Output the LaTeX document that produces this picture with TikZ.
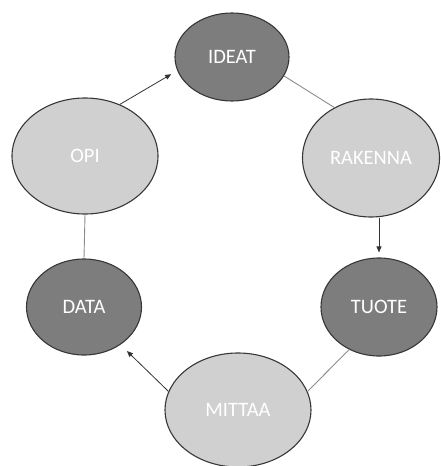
\documentclass[tikz,border=0pt]{standalone}
\usepackage{fontspec}
\setmainfont{Carlito}
\usetikzlibrary{shapes.geometric,arrows.meta}
\definecolor{darkfill}{RGB}{125,125,125}
\definecolor{lightfill}{RGB}{208,208,208}
\definecolor{rim}{RGB}{55,55,55}
\definecolor{linkgray}{RGB}{140,140,140}
\begin{document}
\begin{tikzpicture}[x=1pt,y=-1pt,
  bubble/.style={ellipse,draw=rim,line width=1.1pt,inner sep=0pt,text=white,font=\fontsize{20.5}{23}\selectfont},
  darkb/.style={bubble,fill=darkfill},
  lightb/.style={bubble,fill=lightfill},
  link/.style={draw=linkgray,line width=0.9pt},
  flow/.style={draw=black!80,line width=0.8pt,-{Triangle[length=6pt,width=5pt]}}]
\useasboundingbox (0,0) rectangle (441,466);
\node[darkb,minimum width=114pt,minimum height=88pt] (ideat) at (232,57) {IDEAT};
\node[lightb,minimum width=137pt,minimum height=118pt] (rakenna) at (371,158) {RAKENNA};
\node[darkb,minimum width=116pt,minimum height=98pt] (tuote) at (379,307) {TUOTE};
\node[lightb,minimum width=146pt,minimum height=114pt] (mittaa) at (238,410) {MITTAA};
\node[darkb,minimum width=115pt,minimum height=96pt] (data) at (84,307) {DATA};
\node[lightb,minimum width=146pt,minimum height=116pt] (opi) at (85,156) {OPI};
\draw[link] (ideat.-20) -- (rakenna.126);
\draw[flow,shorten >=5pt] (rakenna.south -| tuote.north) -- (tuote.north);
\draw[link] (tuote.235) -- (mittaa.15);
\draw[flow,shorten >=9pt] (mittaa.165) -- (data.-46);
\draw[link] (opi.south) -- (data.north);
\draw[flow,shorten >=7pt] (opi.56) -- (ideat.194);
\end{tikzpicture}
\end{document}
